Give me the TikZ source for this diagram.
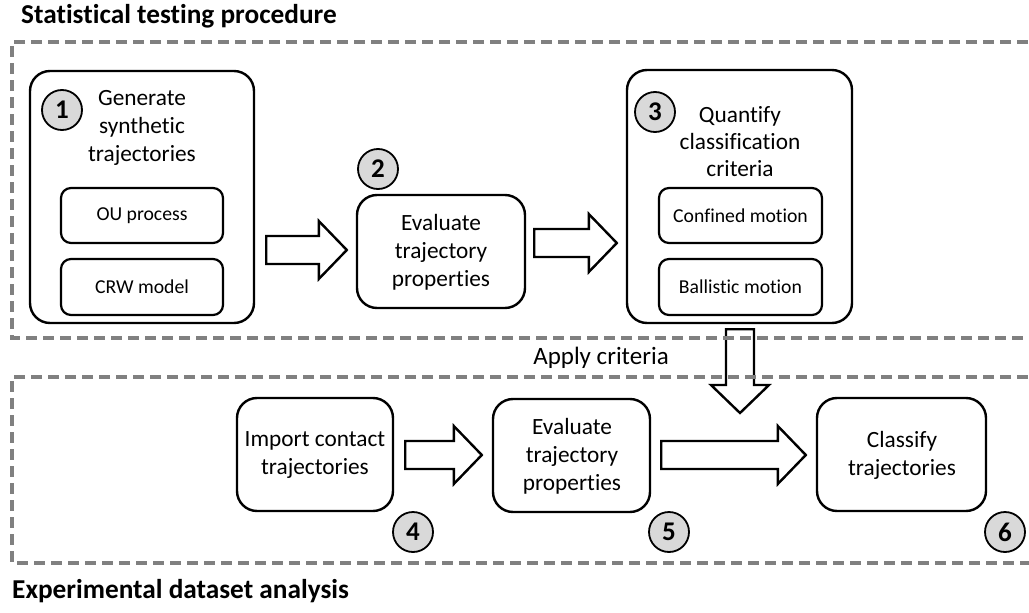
\documentclass[tikz,border=0pt]{standalone}
\usepackage{fontspec}
\setmainfont{Carlito}[Ligatures=NoCommon]
\usetikzlibrary{calc}
\definecolor{dashgray}{HTML}{808080}
\definecolor{numgray}{HTML}{D9D9D9}
\tikzset{
  bigbox/.style={draw=black, line width=2.4pt, rounded corners=20pt, fill=white, inner sep=0pt},
  smallbox/.style={draw=black, line width=2.2pt, rounded corners=10pt, fill=white, inner sep=0pt, font=\fontsize{19.7}{24}\selectfont},
  boxtext/.style={align=center, inner sep=0pt, font=\fontsize{23.3}{28}\selectfont},
  numcirc/.style={circle, draw=black, line width=1.8pt, fill=numgray, minimum size=40pt, inner sep=0pt, font=\bfseries\fontsize{27}{27}\selectfont},
  blk/.style={draw=black, line width=2.4pt, fill=white, line join=miter},
  sect/.style={draw=dashgray, line width=3.6pt, dash pattern=on 11pt off 6pt},
  title/.style={anchor=west, inner sep=0pt, font=\bfseries\fontsize{27.3}{32}\selectfont}
}
\newcommand\harr[3]{% start, tip (same y) , name unused
  \draw[blk] ($(#1)+(0,14)$) -- ($(#2)+(-28,14)$) -- ($(#2)+(-28,29)$) -- (#2) -- ($(#2)+(-28,-29)$) -- ($(#2)+(-28,-14)$) -- ($(#1)+(0,-14)$) -- cycle;}
\begin{document}
\begin{tikzpicture}[x=1pt,y=-1pt]
\useasboundingbox (0,0) rectangle (1029,613);
% titles
\node[title] (t1) at (21,16) {Statistical testing procedure};
\node[title] (t2) at (12,591) {Experimental dataset analysis};
% box 1
\node[bigbox, minimum width=224pt, minimum height=252pt] (b1) at (142,197) {};
\node[boxtext] (b1t) at (142,127.5) {Generate\\synthetic\\trajectories};
\node[smallbox, minimum width=162pt, minimum height=55pt] (ou) at (142,215.5) {OU process};
\node[smallbox, minimum width=162pt, minimum height=56pt] (crw) at (142,287) {CRW model};
\node[numcirc] (n1) at (62,110) {1};
% box 2
\node[bigbox, minimum width=168pt, minimum height=113pt] (b2) at (441,251.5) {};
\node[boxtext] (b2t) at (441,252) {Evaluate\\trajectory\\properties};
\node[numcirc] (n2) at (378,169) {2};
% box 3
\node[bigbox, minimum width=225pt, minimum height=253pt] (b3) at (739.5,196.5) {};
\node[boxtext, font=\fontsize{23.3}{27}\selectfont] (b3t) at (740,141.5) {Quantify\\classification\\criteria};
\node[smallbox, minimum width=163pt, minimum height=55pt] (conf) at (740.5,215.5) {Confined motion};
\node[smallbox, minimum width=163pt, minimum height=56pt] (ball) at (740.5,287) {Ballistic motion};
\node[numcirc] (n3) at (655,112) {3};
% lower boxes
\node[bigbox, minimum width=156pt, minimum height=113pt] (b4) at (315,454.5) {};
\node[boxtext] (b4t) at (315,455.5) {Import contact\\trajectories};
\node[bigbox, minimum width=157pt, minimum height=113pt] (b5) at (571.5,455.5) {};
\node[boxtext] (b5t) at (572,456) {Evaluate\\trajectory\\properties};
\node[bigbox, minimum width=169pt, minimum height=113pt] (b6) at (901.5,454.5) {};
\node[boxtext] (b6t) at (902,455.5) {Classify\\trajectories};
\node[numcirc] (n4) at (413,532) {4};
\node[numcirc] (n5) at (669,532) {5};
\node[numcirc] (n6) at (1005,532) {6};
% block arrows
\coordinate (a1s) at ($(b1.east |- 0,250)+(11,0)$);
\coordinate (a1e) at ($(b2.west |- 0,250)+(-9,0)$);
\harr{a1s}{a1e}{}
\coordinate (a2s) at ($(b2.east |- 0,243)+(8,0)$);
\coordinate (a2e) at ($(b3.west |- 0,243)+(-9,0)$);
\harr{a2s}{a2e}{}
\coordinate (a4s) at ($(b4.east |- 0,455)+(11,0)$);
\coordinate (a4e) at ($(b5.west |- 0,455)+(-10,0)$);
\harr{a4s}{a4e}{}
\coordinate (a5s) at ($(b5.east |- 0,455)+(10,0)$);
\coordinate (a5e) at ($(b6.west |- 0,455)+(-10,0)$);
\harr{a5s}{a5e}{}
% down arrow
\coordinate (ds) at ($(b3.south -| 740,0)+(0,5)$);
\coordinate (de) at (740,413);
\draw[blk, fill=none] ($(ds)+(-14,0)$) -- ($(de)+(-14,-28)$) -- ($(de)+(-29,-28)$) -- (de) -- ($(de)+(29,-28)$) -- ($(de)+(14,-28)$) -- ($(ds)+(14,0)$) -- cycle;
% sections
\draw[sect] (1045,42) -- (12,42) -- (12,338) -- (1045,338);
\draw[sect] (1045,377) -- (12,377) -- (12,563) -- (1045,563);
\node[inner sep=0pt, font=\fontsize{25}{30}\selectfont] (ap) at (601,358) {Apply criteria};
\end{tikzpicture}
\end{document}
